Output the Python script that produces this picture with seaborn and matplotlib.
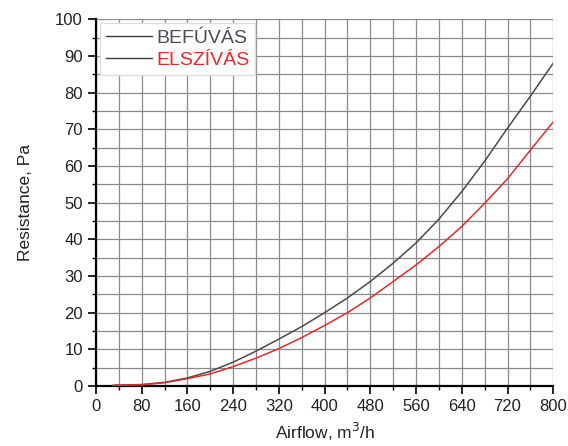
import matplotlib
matplotlib.use("Agg")
import matplotlib.pyplot as plt
import seaborn as sns
import pandas as pd
from matplotlib.ticker import MultipleLocator
from matplotlib.lines import Line2D

airflow = [30, 80, 120, 160, 200, 240, 280, 320, 360, 400, 440, 480, 520, 560, 600, 640, 680, 720, 760, 800]
befuvas = [0.2, 0.4, 1.0, 2.2, 4.0, 6.5, 9.5, 12.8, 16.2, 20.0, 24.0, 28.5, 33.5, 39.0, 45.5, 53.0, 61.3, 70.3, 79.0, 88.0]
elszivas = [0.2, 0.3, 0.9, 2.0, 3.3, 5.3, 7.6, 10.2, 13.2, 16.5, 20.0, 24.0, 28.5, 33.0, 38.0, 43.5, 49.8, 56.5, 64.3, 72.0]
series_names = ["BEFÚVÁS", "ELSZÍVÁS"]
xticks = [0, 80, 160, 240, 320, 400, 480, 560, 640, 720, 800]
yticks = [0, 10, 20, 30, 40, 50, 60, 70, 80, 90, 100]

df = pd.concat([
    pd.DataFrame({"Airflow": airflow, "Resistance": befuvas, "Series": series_names[0]}),
    pd.DataFrame({"Airflow": airflow, "Resistance": elszivas, "Series": series_names[1]}),
])

sns.set_style("white")
plt.rcParams["font.family"] = ["Liberation Sans", "DejaVu Sans"]

fig = plt.figure(figsize=(5.68, 4.46), dpi=100)
ax = fig.add_axes([0.169, 0.1345, 0.805, 0.8225])

line_colors = {series_names[0]: "#4a4a4a", series_names[1]: "#e32a2a"}
sns.lineplot(data=df, x="Airflow", y="Resistance", hue="Series", palette=line_colors,
             ax=ax, linewidth=1.1, legend=False, zorder=3)

ax.set_xlim(0, 800)
ax.set_ylim(0, 100)
ax.set_xticks(xticks)
ax.set_yticks(yticks)
ax.xaxis.set_minor_locator(MultipleLocator(40))
ax.yaxis.set_minor_locator(MultipleLocator(5))
ax.grid(True, which="both", color="#8a8a8a", linewidth=0.9, zorder=0)
ax.set_axisbelow(True)

for s in ["top", "right"]:
    ax.spines[s].set_visible(False)
for s in ["left", "bottom"]:
    ax.spines[s].set_color("black")
    ax.spines[s].set_linewidth(1.6)

ax.tick_params(axis="both", which="major", direction="out", length=6, width=1.2,
               color="black", labelsize=12, labelcolor="#222222", bottom=True, left=True)
ax.tick_params(axis="both", which="minor", direction="out", length=3, width=1.0,
               color="black", bottom=True, left=True)

ax.set_xlabel("Airflow, m$^3$/h", fontsize=12.5, color="#222222", labelpad=5)
ax.set_ylabel("Resistance, Pa", fontsize=12.5, color="#222222", labelpad=16)

handles = [Line2D([], [], color="#3a3a3a", linewidth=1.0),
           Line2D([], [], color="#3a3a3a", linewidth=1.0)]
leg = ax.legend(handles, series_names, loc="upper left", bbox_to_anchor=(0.0, 1.0),
                frameon=True, fancybox=False, framealpha=1.0, edgecolor="#dddddd",
                fontsize=14, handlelength=2.4, handletextpad=0.2, borderaxespad=0.2,
                labelspacing=0.25, borderpad=0.3)
texts = leg.get_texts()
texts[0].set_color("#4a4f55")
texts[1].set_color("#e32a2a")
leg.set_zorder(5)

fig.savefig("out.png", dpi=100, facecolor="white")
